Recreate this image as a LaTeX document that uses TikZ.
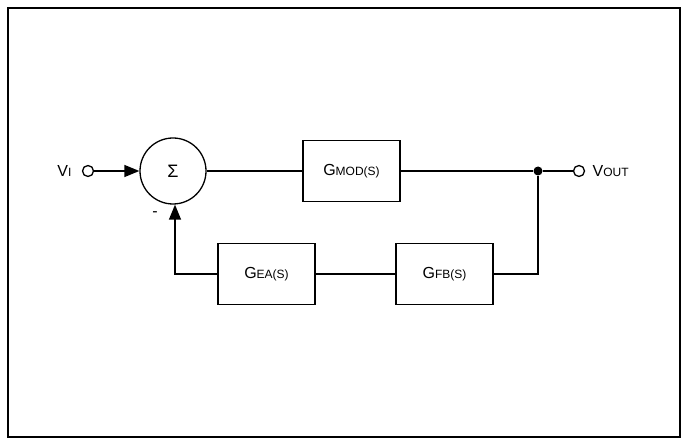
\documentclass[tikz,border=0pt]{standalone}
\usepackage{fontspec}
\setmainfont{Liberation Sans}
\usetikzlibrary{arrows.meta}
\begin{document}
\begin{tikzpicture}[x=1pt,y=-1pt,line width=1.3pt,
  blk/.style={draw,minimum width=97pt,minimum height=61pt,inner sep=0pt,font=\fontsize{16}{16}\selectfont},
  term/.style={draw,circle,minimum size=11pt,inner sep=0pt,fill=white},
  lbl/.style={font=\fontsize{16}{16}\selectfont,inner sep=0pt},
  arr/.style={-{Triangle[length=15pt,width=12pt]}}]
\useasboundingbox (0,0) rectangle (687,443);
\draw[line width=1.4pt] (8,8) rectangle (680,437);
\node[draw,circle,minimum size=66pt,inner sep=0pt,font=\fontsize{18}{18}\selectfont] (sum) at (173,171) {Σ};
\node[term] (vi) at (88,171) {};
\node[lbl,anchor=east] (vil) at (72,171) {V\fontsize{12}{12}\selectfont I};
\node[blk] (mod) at (351.5,171) {G\fontsize{12}{12}\selectfont MOD(S)};
\node[circle,fill,inner sep=0pt,minimum size=9pt] (dot) at (538,171) {};
\node[term] (vo) at (579,171) {};
\node[lbl,anchor=west] (vol) at (592,171) {V\fontsize{12}{12}\selectfont OUT};
\node[blk] (fb) at (444.5,274) {G\fontsize{12}{12}\selectfont FB(S)};
\node[blk] (ea) at (266.5,274) {G\fontsize{12}{12}\selectfont EA(S)};
\node[lbl] (minus) at (155,214) {-};
\coordinate (c1) at (538,274);
\coordinate (c2) at (175,274);
\draw[arr] (vi) -- (sum);
\draw (sum) -- (mod);
\draw (mod) -- (dot);
\draw (dot) -- (vo);
\draw (dot) -- (c1) -- (fb);
\draw (fb) -- (ea);
\draw[arr] (ea.west) -- (c2) -- (sum.south -| c2);
\end{tikzpicture}
\end{document}
